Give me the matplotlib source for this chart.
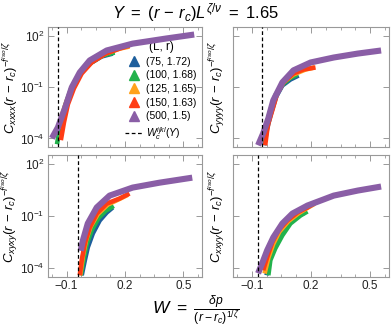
import numpy as np
import matplotlib
matplotlib.use('Agg')
import matplotlib.pyplot as plt
from matplotlib.lines import Line2D
from matplotlib.ticker import FixedLocator, NullLocator

plt.rcParams['font.family'] = ['Liberation Sans', 'DejaVu Sans']
plt.rcParams['mathtext.fontset'] = 'custom'
plt.rcParams['mathtext.rm'] = 'Liberation Sans'
plt.rcParams['mathtext.it'] = 'Liberation Sans:italic'
plt.rcParams['mathtext.bf'] = 'Liberation Sans:bold'

series_labels = ['(75, 1.72)', '(100, 1.68)', '(125, 1.65)', '(150, 1.63)', '(500, 1.5)']
series_colors = ['#1d5e9c', '#22b24c', '#ffa21c', '#ff3c14', '#8a5ea6']

# W values and log10 of the rescaled correlation, one list per (L, r)
xxxx_w = [
    [-0.144, -0.124, -0.103, -0.073, -0.032, 0.019, 0.080, 0.137],
    [-0.149, -0.129, -0.108, -0.078, -0.032, 0.019, 0.086, 0.147],
    [-0.139, -0.124, -0.098, -0.067, -0.027, 0.029, 0.101, 0.172, 0.223],
    [-0.129, -0.113, -0.093, -0.062, -0.022, 0.029, 0.101, 0.172, 0.223],
    [-0.175, -0.144, -0.108, -0.073, -0.032, 0.019, 0.106, 0.239, 0.412, 0.555],
]
xxxx_logc = [
    [-3.64, -2.83, -2.01, -1.08, -0.27, 0.37, 0.78, 0.95],
    [-4.34, -3.06, -2.13, -1.14, -0.27, 0.37, 0.84, 1.01],
    [-3.41, -2.65, -1.78, -0.97, -0.15, 0.49, 0.95, 1.24, 1.36],
    [-4.10, -3.06, -2.01, -1.08, -0.21, 0.43, 0.95, 1.24, 1.42],
    [-3.99, -3.35, -2.24, -1.02, -0.15, 0.55, 1.13, 1.53, 1.83, 2.06],
]

yyyy_w = [
    [-0.037, -0.022, -0.001, 0.024, 0.055, 0.096, 0.137],
    [-0.042, -0.027, -0.006, 0.019, 0.050, 0.091, 0.132],
    [-0.037, -0.022, -0.001, 0.024, 0.060, 0.111, 0.172, 0.218],
    [-0.032, -0.022, -0.016, 0.004, 0.029, 0.060, 0.111, 0.162, 0.223],
    [-0.068, -0.042, -0.016, 0.009, 0.055, 0.111, 0.198, 0.315, 0.437, 0.555],
]
yyyy_logc = [
    [-4.40, -3.41, -2.48, -1.55, -0.91, -0.56, -0.33],
    [-4.22, -3.29, -2.36, -1.49, -0.91, -0.50, -0.27],
    [-4.10, -3.17, -2.24, -1.43, -0.73, -0.27, 0.02, 0.14],
    [-4.40, -3.52, -3.12, -2.36, -1.37, -0.73, -0.21, 0.02, 0.14],
    [-4.40, -3.70, -2.83, -1.78, -0.73, -0.03, 0.43, 0.72, 0.95, 1.13],
]

xyxy_w = [
    [-0.022, -0.006, 0.009, 0.035, 0.070, 0.106, 0.137],
    [-0.027, -0.011, 0.004, 0.030, 0.065, 0.101, 0.142],
    [-0.030, -0.016, 0.000, 0.024, 0.060, 0.111, 0.172, 0.215],
    [-0.032, -0.022, -0.006, 0.019, 0.055, 0.106, 0.172, 0.223],
    [-0.027, -0.016, 0.009, 0.055, 0.121, 0.239, 0.376, 0.545],
]
xyxy_logc = [
    [-4.40, -3.54, -2.80, -2.00, -1.26, -0.80, -0.51],
    [-4.40, -3.40, -2.60, -1.80, -1.10, -0.70, -0.42],
    [-4.40, -3.30, -2.40, -1.60, -0.90, -0.35, -0.02, 0.22],
    [-4.40, -3.54, -2.57, -1.66, -0.86, -0.29, 0.00, 0.29],
    [-3.00, -2.40, -1.43, -0.51, 0.17, 0.63, 0.91, 1.20],
]

xxyy_w = [
    [-0.025, -0.010, 0.015, 0.050, 0.090, 0.140, 0.170],
    [-0.016, -0.006, 0.019, 0.055, 0.096, 0.147, 0.182],
    [-0.035, -0.016, 0.009, 0.040, 0.085, 0.136, 0.187, 0.218],
    [-0.042, -0.022, 0.004, 0.035, 0.080, 0.131, 0.182, 0.223],
    [-0.068, -0.047, -0.022, 0.009, 0.055, 0.106, 0.182, 0.315, 0.437, 0.555],
]
xxyy_logc = [
    [-4.40, -3.50, -2.80, -2.05, -1.40, -0.95, -0.80],
    [-4.40, -3.54, -2.86, -2.11, -1.43, -0.97, -0.74],
    [-4.30, -3.40, -2.60, -1.90, -1.30, -0.85, -0.50, -0.30],
    [-4.11, -3.37, -2.51, -1.83, -1.26, -0.80, -0.51, -0.23],
    [-4.29, -3.71, -2.97, -2.23, -1.43, -0.86, -0.40, 0.17, 0.46, 0.69],
]

# critical W for each component
w_crit = {'xxxx': -0.146, 'yyyy': -0.047, 'xyxy': -0.042, 'xxyy': -0.068}

x_ticks = [-0.1, 0.2, 0.5]
x_tick_labels = ['\u22120.1', '0.2', '0.5']
x_minor = np.arange(-0.175, 0.6, 0.075)
y_ticks = [1e2, 1e-1, 1e-4]
y_tick_labels = ['$10^{2}$', '$10^{-1}$', '$10^{-4}$']

panels = [
    ('xxxx', xxxx_w, xxxx_logc, [48, 27, 154, 120]),
    ('yyyy', yyyy_w, yyyy_logc, [233, 27, 156, 120]),
    ('xyxy', xyxy_w, xyxy_logc, [48, 155, 154, 122]),
    ('xxyy', xxyy_w, xxyy_logc, [233, 155, 156, 122]),
]

W, H = 392, 328
fig = plt.figure(figsize=(W / 100, H / 100), dpi=100)
frame_color = '#999999'

for i, (name, ws, logcs, box) in enumerate(panels):
    x0, y0, bw, bh = box
    ax = fig.add_axes([x0 / W, 1 - (y0 + bh) / H, bw / W, bh / H])
    for k in range(5):
        lw = 4.4 if k == 4 else 3.3
        ax.plot(ws[k], 10 ** np.array(logcs[k]), color=series_colors[k],
                lw=lw, solid_joinstyle='round', solid_capstyle='butt',
                zorder=2 + k)
    ax.axvline(w_crit[name], color='black', lw=0.9, ls=(0, (3, 2)), zorder=10)

    ax.set_yscale('log')
    ax.set_xlim(-0.195, 0.595)
    ax.set_ylim(10 ** -4.5, 10 ** 2.5)
    ax.set_xticks(x_ticks)
    ax.xaxis.set_minor_locator(FixedLocator(x_minor))
    ax.set_yticks(y_ticks)
    ax.yaxis.set_minor_locator(NullLocator())
    ax.tick_params(which='both', direction='in', top=True, right=True,
                   color=frame_color, labelsize=8.5, labelcolor='#222222',
                   pad=2.5)
    ax.tick_params(which='major', length=4, width=0.7)
    ax.tick_params(which='minor', length=2, width=0.6)
    for sp in ax.spines.values():
        sp.set_color(frame_color)
        sp.set_linewidth(0.8)

    if i % 2 == 0:
        ax.set_yticklabels(y_tick_labels)
    else:
        ax.set_yticklabels([])
    if i >= 2:
        ax.set_xticklabels(x_tick_labels)
    else:
        ax.set_xticklabels([])

    ax.set_ylabel('$C_{%s}(r\\,-\\,r_c)^{-f^{iso}/\\zeta}$' % name, fontsize=9.5,
                  labelpad=0 if i % 2 == 0 else 2)

    if name == 'xxxx':
        handles = [Line2D([], [], marker='^', ls='none', color=c, markersize=7)
                   for c in series_colors]
        handles.append(Line2D([], [], color='black', lw=0.9, ls=(0, (3, 2))))
        leg = ax.legend(handles, series_labels + ['$W_c^{ijkl}(Y)$'],
                        title='(L, r)', loc='lower right', frameon=False,
                        fontsize=7.5, title_fontsize=8.5, handlelength=1.6,
                        handletextpad=0.4, labelspacing=0.35,
                        borderaxespad=0.1, bbox_to_anchor=(1.0, 0.0))

fig.text(0.5, 1 - 13 / H, '$Y\\ =\\ (r\\,-\\,r_c)L^{\\zeta/\\nu}\\ =\\ 1.65$',
         ha='center', va='center', fontsize=12)
fig.text(0.5, 1 - 311 / H, '$W\\ =\\ \\frac{\\delta p}{(r-r_c)^{1/\\zeta}}$',
         ha='center', va='center', fontsize=12.5)

fig.savefig('out.png', dpi=100)
